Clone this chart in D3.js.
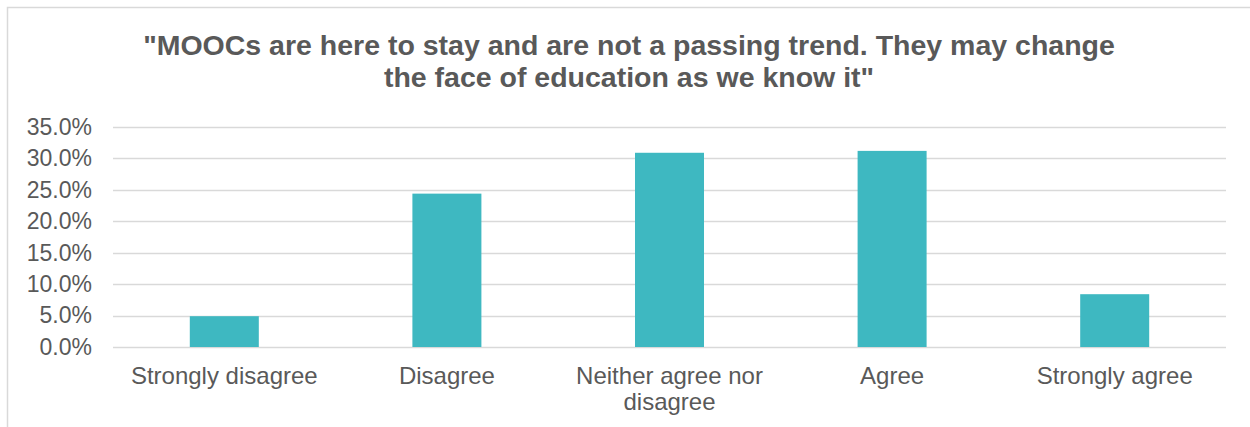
<!DOCTYPE html>
<html>
<head>
<meta charset="utf-8">
<script src="https://cdn.jsdelivr.net/npm/d3@7"></script>
<style>
  body { margin: 0; background: #fff; }
  text { font-family: "Liberation Sans", Arial, sans-serif; fill: #595959; }
</style>
</head>
<body>
<div id="chart"></div>
<script>
// Data
const titleLines = ["\"MOOCs are here to stay and are not a passing trend. They may change", "the face of education as we know it\""];
const categories = ["Strongly disagree", "Disagree", "Neither agree nor disagree", "Agree", "Strongly agree"];
const values = [4.9, 24.4, 30.9, 31.2, 8.4];
const yTicks = [0, 5, 10, 15, 20, 25, 30, 35];

// Constants
let width = 1250;
let height = 427;
let margin = { top: 127, right: 24, bottom: 80, left: 113 };
let barColor = "#3EB8C1";
let gridColor = "#D9D9D9";

let svg = d3.select("#chart")
  .append("svg")
    .attr("width", width)
    .attr("height", height);

// chart area border (left + top only visible in the picture)
svg.append("rect")
  .attr("x", 7.5)
  .attr("y", 7.5)
  .attr("width", width + 20)
  .attr("height", height + 20)
  .attr("fill", "none")
  .attr("stroke", gridColor)
  .attr("stroke-width", 1.5);

// Title
svg.append("g")
  .selectAll("text")
  .data(titleLines)
  .enter().append("text")
    .attr("x", 629)
    .attr("y", (d, i) => 55 + i * 32)
    .attr("text-anchor", "middle")
    .style("font-size", "28.5px")
    .style("font-weight", "bold")
    .text(d => d);

let x = d3.scaleBand()
  .domain(categories)
  .range([margin.left, width - margin.right])
  .paddingInner(0.69)
  .paddingOuter(0.345);

let y = d3.scaleLinear()
  .domain([0, 35])
  .range([height - margin.bottom, margin.top]);

// Gridlines
svg.append("g")
  .selectAll("line")
  .data(yTicks)
  .enter().append("line")
    .attr("x1", margin.left)
    .attr("x2", width - margin.right)
    .attr("y1", d => Math.round(y(d)) + 0.5)
    .attr("y2", d => Math.round(y(d)) + 0.5)
    .attr("stroke", gridColor)
    .attr("stroke-width", 1.5);

// Y axis labels
let yAxis = d3.axisLeft(y)
  .tickValues(yTicks)
  .tickSize(0)
  .tickPadding(21)
  .tickFormat(d => d.toFixed(1) + "%");

svg.append("g")
  .attr("transform", `translate(${margin.left},0)`)
  .call(yAxis)
  .call(g => g.select(".domain").remove())
  .call(g => g.selectAll("text")
    .style("font-size", "23px")
    .style("font-family", "Liberation Sans, Arial, sans-serif")
    .attr("fill", "#595959"));

// Bars
svg.append("g")
  .selectAll("rect")
  .data(values)
  .enter().append("rect")
    .attr("x", (d, i) => x(categories[i]))
    .attr("y", d => y(d))
    .attr("width", x.bandwidth())
    .attr("height", d => y(0) - y(d))
    .attr("fill", barColor);

// X labels with wrapping to the band step
let step = x.step();
let xLabels = svg.append("g")
  .selectAll("text")
  .data(categories)
  .enter().append("text")
    .attr("x", d => x(d) + x.bandwidth() / 2)
    .attr("y", 384)
    .attr("text-anchor", "middle")
    .style("font-size", "24px");

xLabels.each(function(d) {
  let el = d3.select(this);
  let words = d.split(" ");
  let lines = [];
  let line = [];
  let probe = el.append("tspan");
  words.forEach(w => {
    line.push(w);
    probe.text(line.join(" "));
    if (probe.node().getComputedTextLength() > step - 10 && line.length > 1) {
      line.pop();
      lines.push(line.join(" "));
      line = [w];
    }
  });
  lines.push(line.join(" "));
  probe.remove();
  lines.forEach((l, i) => {
    el.append("tspan")
      .attr("x", x(d) + x.bandwidth() / 2)
      .attr("dy", i === 0 ? 0 : 26)
      .text(l);
  });
});
</script>
</body>
</html>
